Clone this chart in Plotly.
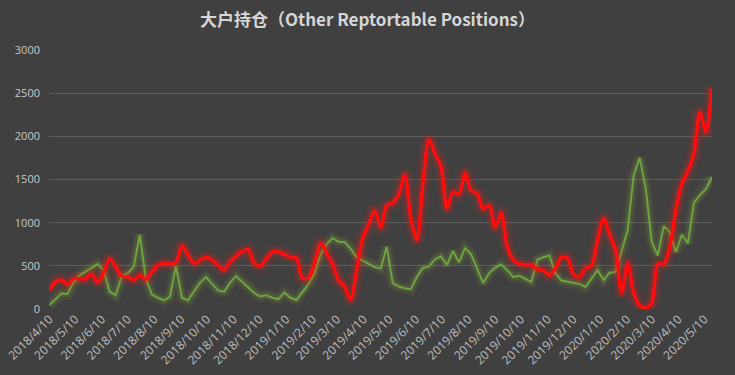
import pandas as pd
import plotly.graph_objects as go

# Weekly dates (COT report Tuesdays)
dates = pd.date_range("2018-04-10", periods=111, freq="7D")

red_values = [
    220, 315, 335, 285, 350, 350, 350, 405, 310, 420,
    580, 490, 380, 370, 335, 390, 345, 430, 505, 530,
    520, 540, 730, 630, 530, 565, 600, 565, 510, 450,
    545, 615, 665, 690, 530, 500, 580, 660, 660, 635,
    600, 590, 360, 360, 530, 765, 650, 520, 335, 260,
    110, 450, 820, 980, 1140, 950, 1200, 1230, 1330, 1550,
    1050, 800, 1450, 1960, 1800, 1650, 1170, 1355, 1330, 1575,
    1370, 1340, 1160, 1200, 950, 1110, 720, 570, 525, 510,
    510, 460, 450, 390, 470, 600, 590, 400, 370, 470,
    500, 800, 1050, 860, 680, 185, 530, 185, 40, 10,
    70, 520, 520, 720, 1150, 1450, 1600, 1800, 2280, 2050,
    2570,
]

green_values = [
    45, 110, 180, 175, 310, 390, 435, 475, 520, 450,
    200, 160, 380, 415, 490, 860, 350, 170, 130, 100,
    140, 500, 130, 100, 200, 305, 370, 290, 215, 200,
    305, 380, 315, 255, 185, 145, 160, 130, 115, 190,
    130, 105, 190, 285, 410, 630, 750, 820, 780, 775,
    700, 600, 560, 525, 485, 470, 720, 300, 260, 240,
    230, 370, 475, 490, 575, 610, 510, 670, 540, 705,
    635, 470, 300, 415, 480, 515, 450, 370, 385, 350,
    315, 570, 600, 620, 415, 330, 315, 305, 290, 255,
    350, 450, 335, 420, 430, 670, 915, 1550, 1750, 1400,
    775, 620, 960, 890, 660, 860, 760, 1230, 1320, 1390,
    1530,
]

tick_dates = pd.date_range("2018-04-01", "2020-05-10", freq="MS") + pd.Timedelta(days=9)
tick_labels = [f"{d.year}/{d.month}/{d.day}" for d in tick_dates]

title_text = "大户持仓（Other Reptortable Positions）"

fig = go.Figure()

# green glow layers + line
for w, a in [(12, 0.07), (7, 0.13)]:
    fig.add_trace(go.Scatter(x=dates, y=green_values, mode="lines",
                             line=dict(color=f"rgba(150,190,60,{a})", width=w),
                             hoverinfo="skip", showlegend=False))
fig.add_trace(go.Scatter(x=dates, y=green_values, mode="lines", name="green",
                         line=dict(color="#6ea33f", width=2), showlegend=False))

# red glow layers + line
for w, a in [(15, 0.09), (9, 0.18)]:
    fig.add_trace(go.Scatter(x=dates, y=red_values, mode="lines",
                             line=dict(color=f"rgba(255,20,20,{a})", width=w, shape="spline", smoothing=0.8),
                             hoverinfo="skip", showlegend=False))
fig.add_trace(go.Scatter(x=dates, y=red_values, mode="lines", name="red",
                         line=dict(color="#ff0d0d", width=3.4, shape="spline", smoothing=0.8),
                         showlegend=False))

fig.update_layout(
    width=735, height=375,
    paper_bgcolor="#404040", plot_bgcolor="#404040",
    margin=dict(l=49, r=23, t=50, b=66, autoexpand=False),
    title=dict(text=title_text, x=0.5, xanchor="center", y=0.947, yanchor="middle",
               font=dict(family="Noto Sans CJK SC", size=17, color="#d6d6d6", weight="bold")),
    showlegend=False,
    xaxis=dict(type="date", range=[dates[0] - pd.Timedelta(hours=12), dates[-1]],
               tickvals=list(tick_dates), ticktext=tick_labels, tickangle=-45,
               showgrid=False, zeroline=False, showline=False, ticks="", automargin=False,
               tickfont=dict(family="Open Sans", size=12, color="#bfbfbf")),
    yaxis=dict(range=[0, 3000], dtick=500, showgrid=True, gridcolor="#5e5e5e", gridwidth=1,
               zeroline=False, showline=False, ticks="", automargin=False, ticklabelstandoff=8,
               tickfont=dict(family="Open Sans", size=11, color="#c8c8c8")),
)

fig.write_html("out.html", config={"displayModeBar": False},
               post_script="document.body.style.margin='0';document.body.style.background='#404040';")
